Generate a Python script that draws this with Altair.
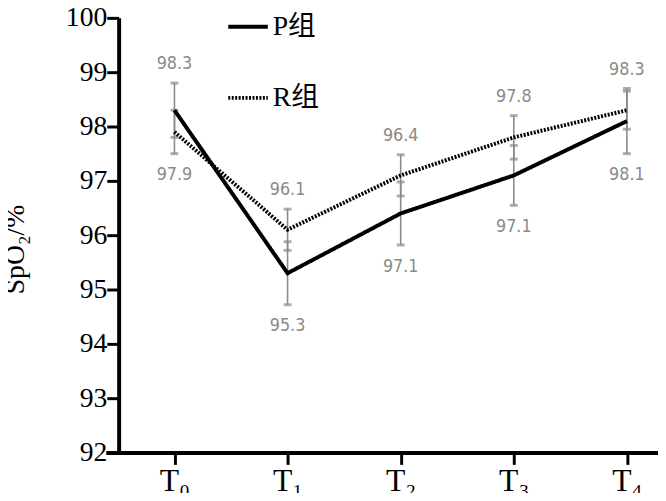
import json
import altair as alt
import pandas as pd

times = [0, 1, 2, 3, 4]
x_labels = ["T₀", "T₁", "T₂", "T₃", "T₄"]
groups = ["P组", "R组"]
p_mean = [98.3, 95.3, 96.4, 97.1, 98.1]
p_sd = [0.50, 0.58, 0.58, 0.55, 0.60]
r_mean = [97.9, 96.1, 97.1, 97.8, 98.3]
r_sd = [0.40, 0.38, 0.38, 0.40, 0.35]
top_labels = ["98.3", "96.1", "96.4", "97.8", "98.3"]
bottom_labels = ["97.9", "95.3", "97.1", "97.1", "98.1"]
y_ticks = [92, 93, 94, 95, 96, 97, 98, 99, 100]

rows = []
for g, means, sds in [(groups[0], p_mean, p_sd), (groups[1], r_mean, r_sd)]:
    for t, m, s in zip(times, means, sds):
        rows.append(dict(t=t, group=g, mean=m, lo=round(m - s, 3), hi=round(m + s, 3)))
df = pd.DataFrame(rows)

lab = pd.DataFrame(dict(
    t=times,
    top=df.groupby("t")["hi"].max().values,
    bottom=df.groupby("t")["lo"].min().values,
    top_text=top_labels,
    bottom_text=bottom_labels,
))

label_expr = json.dumps(x_labels, ensure_ascii=False) + "[datum.value]"
SERIF = "Liberation Serif"
LEGEND_FONT = "Liberation Serif, Noto Sans CJK SC"
NARROW = "DejaVu Sans Condensed, Liberation Sans Narrow, sans-serif"

X = alt.X(
    "t:Q",
    scale=alt.Scale(domain=[-0.607, 4.275], nice=False, zero=False),
    axis=alt.Axis(
        values=times, labelExpr=label_expr, title=None, grid=False,
        domainColor="black", domainWidth=4, tickColor="black", tickWidth=3,
        tickSize=12, labelFont=SERIF, labelFontSize=32,
        labelColor="black", labelPadding=1,
    ),
)


def Y(field):
    return alt.Y(
        f"{field}:Q",
        title="SpO₂/%",
        scale=alt.Scale(domain=[92, 100], nice=False, zero=False),
        axis=alt.Axis(
            values=y_ticks, grid=False, offset=-13,
            domainColor="black", domainWidth=4, tickColor="black", tickWidth=3,
            tickSize=12, labelFont=SERIF, labelFontSize=28,
            labelColor="black", labelPadding=0,
            titleFont=SERIF, titleFontSize=28, titleFontWeight="normal",
            titleColor="black", titleX=-90, titleY=234,
        ),
    )


base = alt.Chart(df)

err = base.mark_rule(color="#8a8a8a", strokeWidth=1.6).encode(x=X, y=Y("lo"), y2="hi")
cap_lo = base.mark_tick(color="#8a8a8a", orient="horizontal", size=8, thickness=3).encode(x=X, y=Y("lo"))
cap_hi = base.mark_tick(color="#8a8a8a", orient="horizontal", size=8, thickness=3).encode(x=X, y=Y("hi"))

lines = base.mark_line(color="black", strokeWidth=4).encode(
    x=X,
    y=Y("mean"),
    strokeDash=alt.StrokeDash(
        "group:N",
        scale=alt.Scale(domain=groups, range=[[1, 0], [2, 1.5]]),
        legend=alt.Legend(
            title=None, orient="none", legendX=122, legendY=-13,
            symbolType="stroke", symbolSize=1600, symbolStrokeWidth=4,
            symbolStrokeColor="black", labelFont=LEGEND_FONT,
            labelFontSize=28, labelColor="black", rowPadding=36,
            labelOffset=3, padding=0,
        ),
    ),
)

top_text = alt.Chart(lab).mark_text(
    font=NARROW, fontSize=18, color="#8a8a8a", dy=-19, baseline="middle"
).encode(x=X, y=Y("top"), text="top_text:N")
bottom_text = alt.Chart(lab).mark_text(
    font=NARROW, fontSize=18, color="#8a8a8a", dy=22, baseline="middle"
).encode(x=X, y=Y("bottom"), text="bottom_text:N")

chart = alt.layer(err, cap_lo, cap_hi, lines, top_text, bottom_text).properties(
    width=559,
    height=440,
    autosize=alt.AutoSizeParams(type="none"),
    padding={"left": 99, "top": 7, "right": 0, "bottom": 38},
).configure_view(stroke=None).configure_legend(labelFont=LEGEND_FONT, labelFontWeight="normal")

chart.save("out.html", embed_options={"renderer": "svg", "actions": False})
